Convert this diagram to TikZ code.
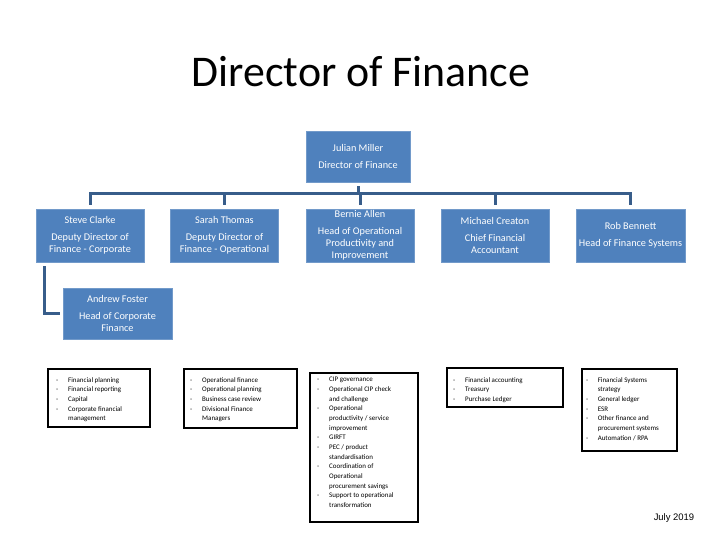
\documentclass[tikz,border=0pt]{standalone}
\usepackage{fontspec}
\setmainfont{Carlito}
\newfontfamily\datefont{Liberation Sans}
\usetikzlibrary{positioning,calc}
\definecolor{postblue}{RGB}{79,129,189}
\definecolor{linkblue}{RGB}{56,93,138}
\newcommand{\dashitem}[1][12bp]{\makebox[#1][l]{-}}
\newcommand{\contline}[1][12bp]{\hspace*{#1}}
\tikzset{
  post/.style      = {rectangle, fill=postblue, draw=postblue!80!white, text=white,
                      align=center, font=\fontsize{10.3}{12}\selectfont, inner sep=0pt,
                      minimum width=108bp, minimum height=53bp},
  link/.style      = {draw=linkblue, line width=3bp, shorten <=4bp},
  duties/.style    = {anchor=north west, align=left, inner sep=0pt,
                      font=\fontsize{7}{9.7}\selectfont},
  dutyframe/.style = {draw=black, line width=2bp},
}

\begin{document}
\begin{tikzpicture}[x=1bp,y=-1bp]
  \useasboundingbox (0,0) rectangle (720,540);

  % =======================================================================
  %  Title and the director
  % =======================================================================
  \node[font=\fontsize{44}{50}\selectfont] (title) at (361,72) {Director of Finance};
  \node[post,minimum width=104bp,minimum height=51bp] (julian) at (358,156.5)
        {Julian Miller\\[5pt]Director of Finance};

  % ---- direct reports ----------------------------------------------------
  \node[post] (steve)   at (90,235.5)  {Steve Clarke\\[5pt]Deputy Director of\\Finance - Corporate};
  \node[post] (sarah)   at (224.5,235.5) {Sarah Thomas\\[5pt]Deputy Director of\\Finance - Operational};
  \node[post] (bernie)  at (360,235.5) {Bernie Allen\\[5pt]Head of Operational\\Productivity and\\Improvement};
  \node[post] (michael) at (495,235.5) {Michael Creaton\\[5pt]Chief Financial\\Accountant};
  \node[post,minimum width=109bp] (rob) at (630.5,235.5)
        {Rob Bennett\\[5pt]\makebox[100bp]{Head of Finance Systems}};
  \node[post,minimum width=109bp,minimum height=51bp] (andrew) at (117.5,313.5)
        {Andrew Foster\\[5pt]Head of Corporate\\Finance};

  % connectors: one bus under the director, drops to each post
  \coordinate (bus) at (0,194);
  \draw[link] (julian.south) -- (julian.south |- bus);
  \draw[link,shorten >=4bp] (steve.north) -- (steve.north |- bus) -- (rob.north |- bus) -- (rob.north);
  \foreach \p in {sarah,bernie,michael}
    \draw[link] (\p.north) -- (\p.north |- bus);
  \draw[link,shorten >=3bp] ($(steve.south west)+(9,0)$) |- (andrew.west);

  % =======================================================================
  %  Areas of responsibility
  % =======================================================================
  \draw[dutyframe] (48,369) rectangle (150,427);
  \node[duties] (corp) at (56,377)
        {\dashitem Financial planning\\
         \dashitem Financial reporting\\
         \dashitem Capital\\
         \dashitem Corporate financial\\
         \contline management};

  \draw[dutyframe] (184,369) rectangle (297,428);
  \node[duties] (oper) at (190,377)
        {\dashitem Operational finance\\
         \dashitem Operational planning\\
         \dashitem Business case review\\
         \dashitem Divisional Finance\\
         \contline Managers};

  \draw[dutyframe] (310,373) rectangle (418,522);
  \node[duties] (prod) at (317,377)
        {\dashitem CIP governance\\
         \dashitem Operational CIP check\\
         \contline and challenge\\
         \dashitem Operational\\
         \contline productivity / service\\
         \contline improvement\\
         \dashitem GIRFT\\
         \dashitem PEC / product\\
         \contline standardisation\\
         \dashitem Coordination of\\
         \contline Operational\\
         \contline procurement savings\\
         \dashitem Support to operational\\
         \contline transformation};

  \draw[dutyframe] (447,368) rectangle (563,407);
  \node[duties] (acct) at (453,377)
        {\dashitem Financial accounting\\
         \dashitem Treasury\\
         \dashitem Purchase Ledger};

  \draw[dutyframe] (582,369) rectangle (677,451);
  \node[duties] (sys) at (586,377)
        {\dashitem[10bp] Financial Systems\\
         \contline[10bp] strategy\\
         \dashitem[10bp] General ledger\\
         \dashitem[10bp] ESR\\
         \dashitem[10bp] Other finance and\\
         \contline[10bp] procurement systems\\
         \dashitem[10bp] Automation / RPA};

  \node[font=\datefont\fontsize{9.5}{11}\selectfont] (date) at (674,518) {July 2019};
\end{tikzpicture}
\end{document}
